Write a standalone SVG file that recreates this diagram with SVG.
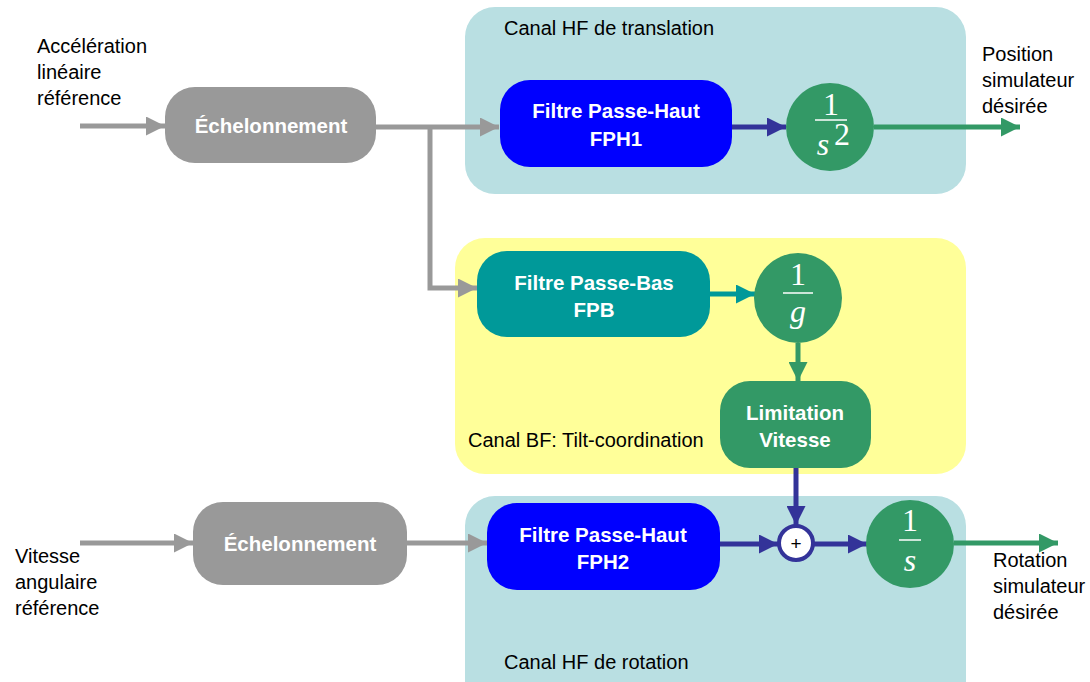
<svg xmlns="http://www.w3.org/2000/svg" width="1090" height="682" viewBox="0 0 1090 682">
<style>
.lbl{font-family:"Liberation Sans",Arial,sans-serif;font-size:20px;fill:#000}
.nt{font-family:"Liberation Sans",Arial,sans-serif;font-size:20.5px;font-weight:bold;fill:#fff;text-anchor:middle}
.fr{font-family:"Liberation Serif","Times New Roman",serif;font-size:32px;fill:#fff;text-anchor:middle}
.frl{stroke:#fff;stroke-width:1.5}
.gray{stroke:#999;stroke-width:5;fill:none}
.dblue{stroke:#333399;stroke-width:5;fill:none}
.green{stroke:#339966;stroke-width:5;fill:none}
.teal{stroke:#009999;stroke-width:5;fill:none}
</style>
<defs>
<marker id="ag" viewBox="0 0 10 10" refX="10" refY="5" markerWidth="3.8" markerHeight="3.8" orient="auto" markerUnits="strokeWidth"><path d="M0,0 L10,5 L0,10 z" fill="#999"/></marker>
<marker id="ab" viewBox="0 0 10 10" refX="10" refY="5" markerWidth="3.8" markerHeight="3.8" orient="auto" markerUnits="strokeWidth"><path d="M0,0 L10,5 L0,10 z" fill="#333399"/></marker>
<marker id="agr" viewBox="0 0 10 10" refX="10" refY="5" markerWidth="3.8" markerHeight="3.8" orient="auto" markerUnits="strokeWidth"><path d="M0,0 L10,5 L0,10 z" fill="#339966"/></marker>
<marker id="at" viewBox="0 0 10 10" refX="10" refY="5" markerWidth="3.8" markerHeight="3.8" orient="auto" markerUnits="strokeWidth"><path d="M0,0 L10,5 L0,10 z" fill="#009999"/></marker>
</defs>
<rect width="1090" height="682" fill="#fff"/>
<g id="panel-translation">
<rect x="465" y="7" width="501" height="187" rx="30" fill="#b9dfe2"/>
<text class="lbl" x="504" y="35">Canal HF de translation</text>
</g>
<g id="panel-tilt">
<rect x="455" y="238" width="511" height="236" rx="30" fill="#ffff99"/>
<text class="lbl" x="468" y="447">Canal BF: Tilt-coordination</text>
</g>
<g id="panel-rotation">
<rect x="465" y="496" width="501" height="216" rx="30" fill="#b9dfe2"/>
<text class="lbl" x="504" y="669">Canal HF de rotation</text>
</g>
<g id="connectors">
<line class="gray" x1="80" y1="126" x2="165" y2="126" marker-end="url(#ag)"/>
<line class="gray" x1="376" y1="127" x2="499" y2="127" marker-end="url(#ag)"/>
<polyline class="gray" points="430,127 430,288 477,288" marker-end="url(#ag)"/>
<line class="gray" x1="80" y1="543" x2="193" y2="543" marker-end="url(#ag)"/>
<line class="gray" x1="407" y1="543" x2="487" y2="543" marker-end="url(#ag)"/>
<line class="dblue" x1="732" y1="127" x2="786" y2="127" marker-end="url(#ab)"/>
<line class="green" x1="874" y1="127" x2="1020" y2="127" marker-end="url(#agr)"/>
<line class="teal" x1="710" y1="294" x2="755" y2="294" marker-end="url(#at)"/>
<line class="green" x1="798" y1="343" x2="798" y2="381" marker-end="url(#agr)"/>
<line class="dblue" x1="796" y1="468" x2="796" y2="525" marker-end="url(#ab)"/>
<line class="dblue" x1="720" y1="544" x2="778" y2="544" marker-end="url(#ab)"/>
<line class="dblue" x1="814" y1="544" x2="867" y2="544" marker-end="url(#ab)"/>
<line class="green" x1="954" y1="543" x2="1058" y2="543" marker-end="url(#agr)"/>
</g>
<g id="input-accel">
<text class="lbl" x="37" y="53">Accélération</text>
<text class="lbl" x="37" y="79">linéaire</text>
<text class="lbl" x="37" y="105">référence</text>
</g>
<g id="ech1">
<rect x="165" y="87" width="211" height="76" rx="30" fill="#999"/>
<text class="nt" x="271" y="133">Échelonnement</text>
</g>
<g id="fph1">
<rect x="500" y="80" width="232" height="87" rx="30" fill="#0000ff"/>
<text class="nt" x="616" y="118">Filtre Passe-Haut</text>
<text class="nt" x="616" y="146">FPH1</text>
</g>
<g id="int2">
<ellipse cx="830" cy="127" rx="44" ry="44" fill="#339966"/>
<text class="fr" x="831" y="115">1</text>
<line class="frl" x1="815" y1="120" x2="847" y2="120"/>
<text class="fr" x="823" y="155" font-style="italic">s</text>
<text class="fr" x="842" y="145" font-size="19">2</text>
</g>
<g id="out-position">
<text class="lbl" x="982" y="61">Position</text>
<text class="lbl" x="982" y="87">simulateur</text>
<text class="lbl" x="982" y="113">désirée</text>
</g>
<g id="fpb">
<rect x="477" y="251" width="233" height="86" rx="30" fill="#009999"/>
<text class="nt" x="594" y="290">Filtre Passe-Bas</text>
<text class="nt" x="594" y="317">FPB</text>
</g>
<g id="invg">
<ellipse cx="798" cy="298" rx="44" ry="45" fill="#339966"/>
<text class="fr" x="798" y="285">1</text>
<line class="frl" x1="783" y1="293" x2="813" y2="293"/>
<text class="fr" x="798" y="322" font-style="italic">g</text>
</g>
<g id="limit">
<rect x="720" y="381" width="151" height="87" rx="30" fill="#339966"/>
<text class="nt" x="795" y="420">Limitation</text>
<text class="nt" x="795" y="447">Vitesse</text>
</g>
<g id="input-vitesse">
<text class="lbl" x="15" y="563">Vitesse</text>
<text class="lbl" x="15" y="589">angulaire</text>
<text class="lbl" x="15" y="615">référence</text>
</g>
<g id="ech2">
<rect x="193" y="502" width="214" height="83" rx="30" fill="#999"/>
<text class="nt" x="300" y="551">Échelonnement</text>
</g>
<g id="fph2">
<rect x="487" y="503" width="233" height="87" rx="30" fill="#0000ff"/>
<text class="nt" x="603" y="542">Filtre Passe-Haut</text>
<text class="nt" x="603" y="569">FPH2</text>
</g>
<g id="sum">
<circle cx="796" cy="543" r="17" fill="#fff" stroke="#333399" stroke-width="4"/>
<text x="796" y="550" style="font-family:'Liberation Sans',Arial,sans-serif;font-size:19px" text-anchor="middle" fill="#000">+</text>
</g>
<g id="int1">
<ellipse cx="910" cy="544" rx="44" ry="44" fill="#339966"/>
<text class="fr" x="910" y="531">1</text>
<line class="frl" x1="899" y1="540" x2="921" y2="540"/>
<text class="fr" x="910" y="571" font-style="italic">s</text>
</g>
<g id="out-rotation">
<text class="lbl" x="993" y="567">Rotation</text>
<text class="lbl" x="993" y="593">simulateur</text>
<text class="lbl" x="993" y="619">désirée</text>
</g>
</svg>
